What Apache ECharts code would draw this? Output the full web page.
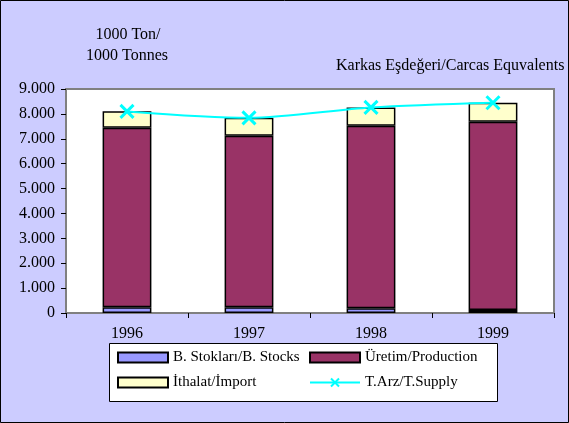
<!DOCTYPE html>
<html>
<head>
<meta charset="utf-8">
<script src="https://cdn.jsdelivr.net/npm/echarts@6/dist/echarts.min.js"></script>
<style>
  html, body { margin: 0; padding: 0; background: #ccccff; }
  #chart { width: 569px; height: 423px; }
</style>
</head>
<body>
<div id="chart"></div>
<script>
// data (1000 tonnes)
const years = ['1996', '1997', '1998', '1999'];
const stocks = [230, 230, 190, 120];
const production = [7210, 6890, 7330, 7560];
const imports = [670, 720, 740, 770];
const supply = [8100, 7840, 8260, 8450];

const names = {
  stocks: 'B. Stokları/B. Stocks',
  production: 'Üretim/Production',
  imports: 'İthalat/İmport',
  supply: 'T.Arz/T.Supply',
};

const font = 'Liberation Serif, Times New Roman, serif';
const crossPath = 'path://M0,0L10,10M10,0L0,10';

// 9000 -> "9.000"
function fmt(v) {
  if (v < 1000) return String(v);
  return Math.floor(v / 1000) + '.' + String(v % 1000).padStart(3, '0');
}

const myChart = echarts.init(document.getElementById('chart'));
const barStyle = (color) => ({
  color: color,
  borderColor: '#000',
  borderWidth: 1.5,
});
const legendBase = {
  orient: 'vertical',
  top: 350,
  padding: 0,
  itemWidth: 50, itemHeight: 10, itemGap: 10,
  textStyle: { fontFamily: font, fontSize: 15, color: '#000' },
};

const option = {
  backgroundColor: '#ccccff',
  animation: false,
  textStyle: { fontFamily: font },
  graphic: [
    {
      type: 'rect', z: 0,
      shape: { x: 0.5, y: 0.5, width: 568, height: 422 },
      style: { fill: 'none', stroke: '#000', lineWidth: 1 },
    },
    {
      type: 'rect', z: 0,
      shape: { x: 109.5, y: 343.5, width: 388, height: 58 },
      style: { fill: '#fff', stroke: '#000', lineWidth: 1 },
    },
    {
      type: 'text', x: 128, y: 35, z: 5,
      style: { text: '1000 Ton/', font: '16px ' + font, fill: '#000', align: 'center', verticalAlign: 'middle' },
    },
    {
      type: 'text', x: 127, y: 56, z: 5,
      style: { text: '1000 Tonnes', font: '16px ' + font, fill: '#000', align: 'center', verticalAlign: 'middle' },
    },
    {
      type: 'text', x: 336, y: 66, z: 5,
      style: { text: 'Karkas Eşdeğeri/Carcas Equvalents', font: '16px ' + font, fill: '#000', align: 'left', verticalAlign: 'middle' },
    },
  ],
  grid: {
    left: 66, right: 15, top: 89, bottom: 110,
    show: true,
    backgroundColor: '#fff',
    borderColor: '#808080',
    borderWidth: 2,
  },
  legend: [
    Object.assign({}, legendBase, {
      left: 117,
      data: [{ name: names.stocks, icon: 'rect' }, { name: names.imports, icon: 'rect' }],
    }),
    Object.assign({}, legendBase, {
      left: 309,
      data: [{ name: names.production, icon: 'rect' }, names.supply],
    }),
  ],
  xAxis: {
    type: 'category',
    data: years,
    axisLine: { lineStyle: { color: '#808080', width: 1 } },
    axisTick: { show: true, length: 5, lineStyle: { color: '#000' } },
    axisLabel: { color: '#000', fontFamily: font, fontSize: 16, margin: 13 },
  },
  yAxis: {
    type: 'value',
    min: 0, max: 9000, interval: 1000,
    splitLine: { show: false },
    axisLine: { show: true, lineStyle: { color: '#808080', width: 1 } },
    axisTick: { show: true, length: 5, lineStyle: { color: '#000' } },
    axisLabel: { color: '#000', fontFamily: font, fontSize: 16, margin: 11, formatter: fmt },
  },
  series: [
    {
      name: names.stocks, type: 'bar', stack: 'total',
      barWidth: '40%',
      itemStyle: barStyle('#9999ff'),
      data: stocks,
    },
    {
      name: names.production, type: 'bar', stack: 'total',
      itemStyle: barStyle('#993366'),
      data: production,
    },
    {
      name: names.imports, type: 'bar', stack: 'total',
      itemStyle: barStyle('#ffffcc'),
      data: imports,
    },
    {
      name: names.supply, type: 'line',
      smooth: 0.3,
      symbol: crossPath,
      symbolSize: 13,
      lineStyle: { color: '#00ffff', width: 2 },
      itemStyle: { color: '#00ffff', borderColor: '#00ffff', borderWidth: 3 },
      z: 5,
      data: supply,
    },
  ],
};

myChart.setOption(option);
</script>
</body>
</html>
